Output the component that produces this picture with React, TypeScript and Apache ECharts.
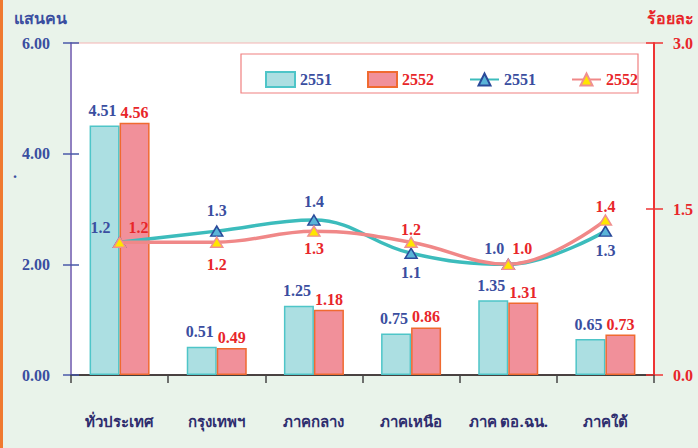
import React, { useEffect, useRef } from "react";
import * as echarts from "echarts";

const categories = ["ทั่วประเทศ", "กรุงเทพฯ", "ภาคกลาง", "ภาคเหนือ", "ภาค ตอ.ฉน.", "ภาคใต้"];
const people2551 = [4.51, 0.51, 1.25, 0.75, 1.35, 0.65];
const people2552 = [4.56, 0.49, 1.18, 0.86, 1.31, 0.73];
const pct2551 = [1.2, 1.3, 1.4, 1.1, 1.0, 1.3];
const pct2552 = [1.2, 1.2, 1.3, 1.2, 1.0, 1.4];
const leftAxis = { min: 0, max: 6, interval: 2 };
const rightAxis = { min: 0, max: 3, interval: 1.5 };
const leftName = "แสนคน";
const rightName = "ร้อยละ";
const legendNames = ["2551", "2552"];

const BLUE = "#3a4ea0";
const RED = "#e8262a";
const NUM_FONT = "'Liberation Serif', 'Times New Roman', serif";
const THAI_FONT = "'Noto Sans', 'DejaVu Sans', sans-serif";

type Place = { pos: string; dist: number; dx?: number };
const place2551: Place[] = [
  { pos: "top", dist: 1.5, dx: -19 },
  { pos: "top", dist: 6.5 },
  { pos: "top", dist: 4.5 },
  { pos: "bottom", dist: 5.5 },
  { pos: "top", dist: 2.5, dx: -14 },
  { pos: "bottom", dist: 5.5 },
];
const place2552: Place[] = [
  { pos: "top", dist: 1.5, dx: 19 },
  { pos: "bottom", dist: 8.5 },
  { pos: "bottom", dist: 3.5 },
  { pos: "top", dist: -0.5 },
  { pos: "top", dist: 2.5, dx: 14 },
  { pos: "top", dist: -0.5 },
];

export default function App() {
  const ref = useRef<HTMLDivElement>(null);
  useEffect(() => {
    if (!ref.current) return;
    const chart = echarts.init(ref.current, undefined, { renderer: "svg" });
    const numLabel = (color: string) => ({
      color,
      fontFamily: NUM_FONT,
      fontWeight: "bold" as const,
      fontSize: 16,
    });
    const legendText = (color: string) => ({
      color,
      fontFamily: NUM_FONT,
      fontWeight: "bold" as const,
      fontSize: 16,
    });
    const lineData = (vals: number[], places: Place[]) =>
      vals.map((v, i) => ({
        value: v,
        label: {
          position: places[i].pos,
          distance: places[i].dist,
          offset: [places[i].dx || 0, 0],
        },
      }));
    chart.setOption({
      animation: false,
      backgroundColor: "#e9f3ea",
      grid: {
        left: 71,
        right: 44,
        top: 43,
        bottom: 73,
        show: true,
        backgroundColor: "#ffffff",
        borderColor: "#f4b4b4",
        borderWidth: 1,
      },
      legend: {
        left: 260,
        top: 66,
        itemWidth: 29,
        itemHeight: 15,
        itemGap: 35,
        z: 5,
        textStyle: legendText(BLUE),
        data: [
          { name: "bar2551", icon: "rect", textStyle: legendText(BLUE) },
          { name: "bar2552", icon: "rect", textStyle: legendText(RED) },
          { name: "line2551", textStyle: legendText(BLUE) },
          { name: "line2552", textStyle: legendText(RED) },
        ],
        formatter: (n: string) => (n.endsWith("2551") ? legendNames[0] : legendNames[1]),
      },
      xAxis: {
        type: "category",
        data: categories,
        boundaryGap: true,
        axisLine: { lineStyle: { color: "#111111", width: 1.5 } },
        axisTick: { show: true, length: 8, interval: 0, lineStyle: { color: "#444444", width: 1.5 } },
        axisLabel: {
          interval: 0,
          color: "#2e2d6e",
          fontFamily: THAI_FONT,
          fontWeight: "bold",
          fontSize: 15,
          margin: 38,
        },
      },
      yAxis: [
        {
          type: "value",
          position: "left",
          ...leftAxis,
          axisLine: { show: true, lineStyle: { color: "#9080c0", width: 2 } },
          axisTick: { show: true, length: 8, lineStyle: { color: "#4858a8", width: 1.5 } },
          axisLabel: { ...numLabel(BLUE), margin: 21, formatter: (v: number) => v.toFixed(2) },
          splitLine: { show: false },
        },
        {
          type: "value",
          position: "right",
          ...rightAxis,
          axisLine: { show: true, lineStyle: { color: "#ee3434", width: 2 } },
          axisTick: { show: true, length: 9, lineStyle: { color: "#ee3434", width: 1.5 } },
          axisLabel: { ...numLabel(RED), margin: 19, formatter: (v: number) => v.toFixed(1) },
          splitLine: { show: false },
        },
        {
          type: "value",
          position: "left",
          ...leftAxis,
          axisLine: { show: false },
          axisTick: { show: true, inside: true, length: 8, lineStyle: { color: "#4858a8", width: 1.5 } },
          axisLabel: { show: false },
          splitLine: { show: false },
        },
        {
          type: "value",
          position: "right",
          ...rightAxis,
          axisLine: { show: false },
          axisTick: { show: true, inside: true, length: 8, lineStyle: { color: "#ee3434", width: 1.5 } },
          axisLabel: { show: false },
          splitLine: { show: false },
        },
      ],
      series: [
        {
          name: "bar2551",
          type: "bar",
          yAxisIndex: 0,
          data: people2551,
          barWidth: 30,
          barGap: "0%",
          itemStyle: { color: "#acdfe2", borderColor: "#4ec5c8", borderWidth: 1.5 },
          label: {
            show: true,
            position: "top",
            distance: 7,
            offset: [-2, 0],
            ...numLabel(BLUE),
            formatter: (p: any) => Number(p.value).toFixed(2),
          },
          z: 2,
        },
        {
          name: "bar2552",
          type: "bar",
          yAxisIndex: 0,
          data: people2552,
          barWidth: 30,
          barGap: "0%",
          itemStyle: { color: "#f1909a", borderColor: "#f06a30", borderWidth: 1.5 },
          label: {
            show: true,
            position: "top",
            distance: 2.5,
            ...numLabel(RED),
            formatter: (p: any) => Number(p.value).toFixed(2),
          },
          z: 2,
        },
        {
          name: "line2551",
          type: "line",
          yAxisIndex: 1,
          data: lineData(pct2551, place2551),
          smooth: 0.4,
          symbol: "triangle",
          symbolSize: [12, 10],
          lineStyle: { color: "#3cbcbc", width: 3.5 },
          itemStyle: { color: "#5ab4d8", borderColor: "#2a4a9a", borderWidth: 1.5 },
          label: {
            show: true,
            ...numLabel(BLUE),
            formatter: (p: any) => Number(p.value).toFixed(1),
          },
          z: 4,
        },
        {
          name: "line2552",
          type: "line",
          yAxisIndex: 1,
          data: lineData(pct2552, place2552),
          smooth: 0.4,
          symbol: "triangle",
          symbolSize: [12, 10],
          lineStyle: { color: "#f08888", width: 3.5 },
          itemStyle: { color: "#ffe600", borderColor: "#f09090", borderWidth: 1.5 },
          label: {
            show: true,
            ...numLabel(RED),
            formatter: (p: any) => Number(p.value).toFixed(1),
          },
          z: 5,
        },
      ],
      graphic: [
        { type: "rect", shape: { x: 0, y: 0, width: 3, height: 448 }, style: { fill: "#f07a30" }, z: 10 },
        {
          type: "rect",
          shape: { x: 241, y: 54, width: 397, height: 39 },
          style: { fill: "#ffffff", stroke: "#f08080", lineWidth: 1.2 },
          z: 1,
        },
        {
          type: "text",
          x: 40,
          y: 18,
          style: {
            text: leftName,
            fill: BLUE,
            font: `bold 16px ${THAI_FONT}`,
            align: "center",
            verticalAlign: "middle",
          },
        },
        {
          type: "text",
          x: 670,
          y: 18,
          style: {
            text: rightName,
            fill: RED,
            font: `bold 16px ${THAI_FONT}`,
            align: "center",
            verticalAlign: "middle",
          },
        },
        {
          type: "text",
          x: 15,
          y: 172,
          style: { text: ".", fill: BLUE, font: `bold 16px ${NUM_FONT}`, align: "center", verticalAlign: "middle" },
        },
      ],
    });
    return () => chart.dispose();
  }, []);
  return <div ref={ref} style={{ position: "fixed", left: 0, top: 0, width: 698, height: 448 }} />;
}
